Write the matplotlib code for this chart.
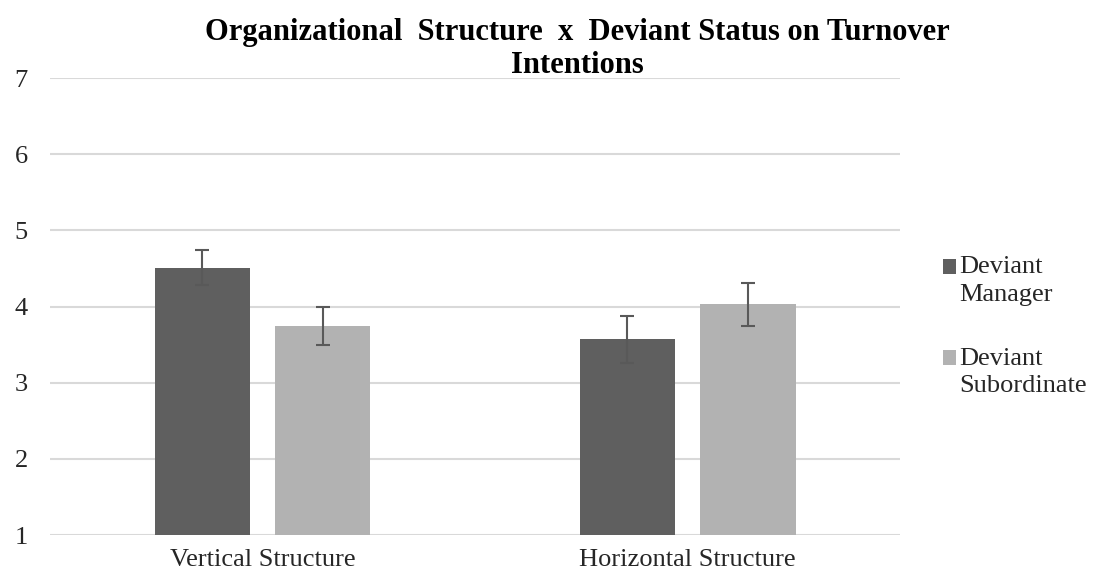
import numpy as np
import matplotlib.pyplot as plt
import matplotlib.patches as mpatches
from matplotlib.legend_handler import HandlerPatch

plt.rcParams['font.family'] = ['Liberation Serif', 'DejaVu Serif']

categories = ["Vertical Structure", "Horizontal Structure"]
manager = [4.51, 3.57]
manager_err = [0.23, 0.31]
subordinate = [3.74, 4.03]
subordinate_err = [0.25, 0.28]
series_labels = ["Deviant\nManager", "Deviant\nSubordinate"]
colors = ['#5f5f5f', '#b2b2b2']

fig = plt.figure(figsize=(10.99, 5.83), dpi=100)
ax = fig.add_axes([0.0455, 0.0823, 0.7735, 0.7837])

x = np.arange(len(categories))
w = 0.224
off = 0.142
ekw = dict(ecolor='#595959', elinewidth=1.5, capsize=5, capthick=1.5)
ax.bar(x - off, np.array(manager) - 1, w, bottom=1, color=colors[0],
       yerr=manager_err, error_kw=ekw, zorder=3)
ax.bar(x + off, np.array(subordinate) - 1, w, bottom=1, color=colors[1],
       yerr=subordinate_err, error_kw=ekw, zorder=3)

ax.set_xlim(-0.5, 1.5)
ax.set_ylim(1, 7)
ax.set_yticks(range(1, 8))
ax.set_xticks(x)
ax.set_xticklabels(categories)
ax.grid(axis='y', color='#d9d9d9', linewidth=1.5, zorder=0)
for s in ax.spines.values():
    s.set_visible(False)
ax.tick_params(length=0, labelsize=19, colors='#262626')
ax.tick_params(axis='y', pad=16)
ax.tick_params(axis='x', pad=10)

fig.text(0.525, 0.916, "Organizational  Structure  x  Deviant Status on Turnover\nIntentions",
         ha='center', va='center', fontsize=22, fontweight='bold', linespacing=1.2)


# legend square sits next to the first line of the two-line label
def top_square(legend, orig_handle, xdescent, ydescent, width, height, fontsize):
    return mpatches.Rectangle((-xdescent, -ydescent + 0.52 * fontsize), width, height)


handles = [mpatches.Rectangle((0, 0), 1, 1, facecolor=c, edgecolor='none') for c in colors]
leg = ax.legend(handles, series_labels, loc='center left', bbox_to_anchor=(1.022, 0.456),
                frameon=False, fontsize=19, handlelength=0.5, handleheight=0.5,
                handletextpad=0.15, labelspacing=1.6,
                handler_map={mpatches.Rectangle: HandlerPatch(patch_func=top_square)})
for t in leg.get_texts():
    t.set_color('#262626')
    t.set_linespacing(1.3)

fig.savefig("out.png", dpi=100)
